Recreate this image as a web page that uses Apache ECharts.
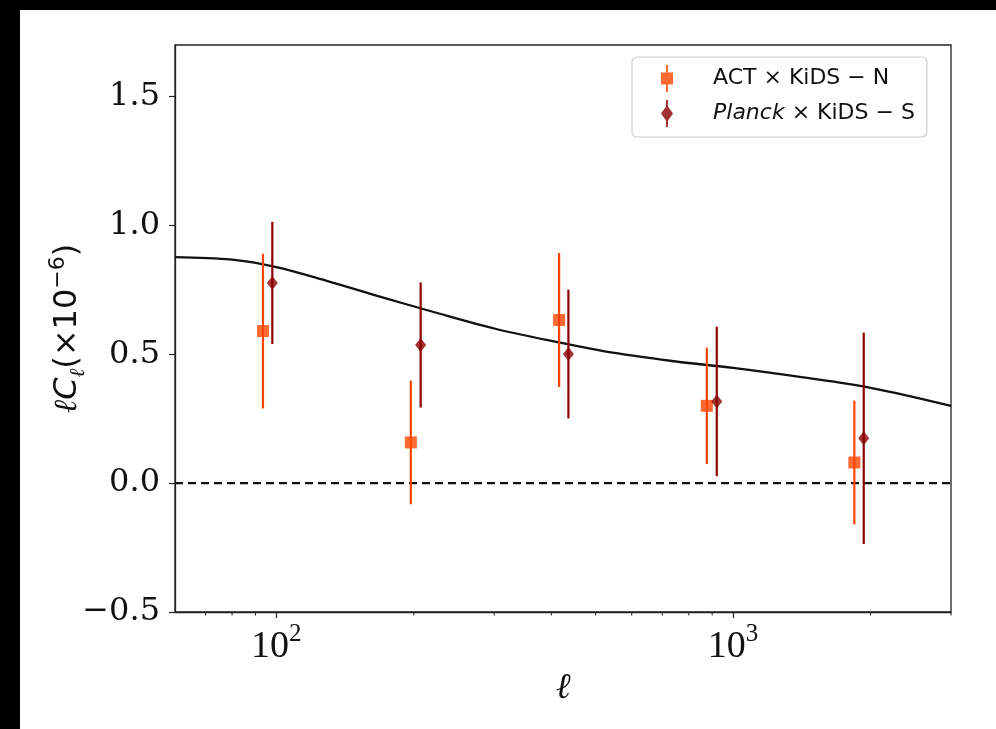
<!DOCTYPE html>
<html><head><meta charset="utf-8">
<script src="https://cdn.jsdelivr.net/npm/echarts@6/dist/echarts.min.js"></script>
<style>
html,body{margin:0;padding:0;background:#000;width:996px;height:729px;overflow:hidden}
#chart{position:absolute;left:20px;top:10px;width:976px;height:719px;background:#fff}
</style></head><body><div id="chart"></div>
<script>
// ---- data ----
const actEll = [93.5, 197, 416, 876, 1843];
const actVal = [0.590, 0.158, 0.633, 0.300, 0.080];
const actErr = [0.300, 0.240, 0.260, 0.226, 0.240];

const planckEll = [98, 207, 436, 921, 1932];
const planckVal = [0.777, 0.536, 0.501, 0.317, 0.174];
const planckErr = [0.237, 0.243, 0.250, 0.290, 0.410];

const theoryEll = [60, 80, 100, 130, 170, 220, 300, 400, 550, 750, 1000, 1400, 2000, 3000];
const theoryVal = [0.877, 0.867, 0.838, 0.783, 0.722, 0.665, 0.600, 0.552, 0.505, 0.472, 0.447, 0.412, 0.370, 0.300];

const xMajorTicks = [100, 1000];
const xMinorTicks = [70, 80, 90, 200, 300, 400, 500, 600, 700, 800, 900, 2000, 3000];
const yTicks = [-0.5, 0.0, 0.5, 1.0, 1.5];
const xRange = [60, 3000];
const yRange = [-0.5, 1.7];

const actName = 'ACT';
const planckName = 'Planck';
const actColor = '#FF4500';
const planckColor = '#8B0000';

// ---- helpers ----
function errData(ell, val, err) {
  return ell.map((e, i) => [e, val[i] - err[i], val[i] + err[i]]);
}
function errRender(color) {
  return function (params, api) {
    const x = api.value(0);
    const p1 = api.coord([x, api.value(1)]);
    const p2 = api.coord([x, api.value(2)]);
    return { type: 'line', shape: { x1: p1[0], y1: p1[1], x2: p2[0], y2: p2[1] },
             style: { stroke: color, lineWidth: 2.2 } };
  };
}
function fmtY(v) {
  return (v < 0 ? '\u2212' : '') + Math.abs(v).toFixed(1);
}

const chart = echarts.init(document.getElementById('chart'), null, { renderer: 'canvas' });

const option = {
  animation: false,
  backgroundColor: '#fff',
  grid: { left: 155, top: 35, right: 45, bottom: 117, show: true, borderColor: '#222', borderWidth: 1.3, backgroundColor: 'transparent' },
  legend: {
    left: 612, top: 47,
    orient: 'vertical',
    padding: [8, 12, 10, 29],
    itemGap: 8,
    itemWidth: 12, itemHeight: 27,
    borderColor: '#cccccc', borderWidth: 1.2, borderRadius: 5,
    backgroundColor: '#fff',
    selectedMode: false,
    textStyle: {
      fontFamily: 'DejaVu Sans', fontSize: 22, color: '#111', padding: [0, 0, 0, 35],
      rich: { it: { fontFamily: 'DejaVu Sans', fontStyle: 'italic', fontSize: 22, color: '#111' },
              n: { fontFamily: 'DejaVu Sans', fontSize: 22, color: '#111' } }
    },
    formatter: function (name) {
      return name === actName ? '{n|ACT \u00d7 KiDS \u2212 N}' : '{it|Planck}{n| \u00d7 KiDS \u2212 S}';
    },
    data: [
      { name: actName, icon: 'path://M5,0 H7 V7.5 H12 V19.5 H7 V27 H5 V19.5 H0 V7.5 H5 Z', itemStyle: { color: actColor } },
      { name: planckName, icon: 'path://M5,0 H7 V6.5 L12,13.5 L7,20.5 V27 H5 V20.5 L0,13.5 L5,6.5 Z', itemStyle: { color: planckColor } }
    ]
  },
  xAxis: {
    type: 'log', logBase: 10, min: xRange[0], max: xRange[1],
    name: '\u2113', nameLocation: 'middle', nameGap: 52,
    nameTextStyle: { fontFamily: 'DejaVu Serif', fontStyle: 'italic', fontSize: 36, color: '#111' },
    axisLine: { show: true, onZero: false, lineStyle: { color: '#222', width: 1.3 } },
    axisTick: { show: true, inside: false, length: 6, customValues: xMajorTicks, lineStyle: { color: '#222', width: 1.2 } },
    splitLine: { show: false },
    minorTick: { show: false },
    axisLabel: {
      customValues: xMajorTicks, margin: 10, color: '#111',
      formatter: function (v) { return '{b|10}{s|' + Math.round(Math.log10(v)) + '}'; },
      rich: {
        b: { fontFamily: 'Liberation Serif', fontSize: 38, color: '#111', lineHeight: 44, verticalAlign: 'bottom' },
        s: { fontFamily: 'Liberation Serif', fontSize: 25, color: '#111', verticalAlign: 'top' }
      }
    }
  },
  yAxis: {
    type: 'value', min: yRange[0], max: yRange[1],
    name: '{l|\u2113}{c|C}{sub|\u2113}{n|(\u00d710}{sup|\u22126}{n|)}',
    nameLocation: 'middle', nameRotate: 90, nameGap: 86, nameMoveOverlap: false,
    nameTextStyle: {
      color: '#111',
      rich: {
        l: { fontFamily: 'DejaVu Serif', fontStyle: 'italic', fontSize: 32, color: '#111', lineHeight: 42 },
        c: { fontFamily: 'DejaVu Sans', fontStyle: 'italic', fontSize: 32, color: '#111', lineHeight: 42 },
        sub: { fontFamily: 'DejaVu Serif', fontStyle: 'italic', fontSize: 21, color: '#111', verticalAlign: 'bottom' },
        n: { fontFamily: 'DejaVu Sans', fontSize: 32, color: '#111', lineHeight: 42 },
        sup: { fontFamily: 'DejaVu Sans', fontSize: 22, color: '#111', verticalAlign: 'top' }
      }
    },
    axisLine: { show: true, onZero: false, lineStyle: { color: '#222', width: 1.3 } },
    axisTick: { show: true, inside: false, length: 6, customValues: yTicks, lineStyle: { color: '#222', width: 1.2 } },
    splitLine: { show: false },
    axisLabel: { customValues: yTicks, margin: 15, color: '#111', fontFamily: 'DejaVu Serif', fontSize: 32, formatter: fmtY }
  },
  series: [
    {
      name: 'minorTicks', type: 'custom', silent: true, clip: false, z: 1,
      data: xMinorTicks.map(v => [v]),
      encode: { x: 0 },
      renderItem: function (params, api) {
        const p = api.coord([api.value(0), yRange[0]]);
        return { type: 'line', shape: { x1: p[0], y1: p[1], x2: p[0], y2: p[1] + 3.5 }, style: { stroke: '#222', lineWidth: 1 } };
      }
    },
    {
      name: 'zero', type: 'line', silent: true, z: 2, showSymbol: false,
      data: [[xRange[0], 0], [xRange[1], 0]],
      lineStyle: { color: '#111', width: 2.2, type: [8, 5] }
    },
    {
      name: 'theory', type: 'line', silent: true, z: 3, showSymbol: false, smooth: 0.35,
      data: theoryEll.map((e, i) => [e, theoryVal[i]]),
      lineStyle: { color: '#111', width: 2.3 }
    },
    {
      name: 'actErr', type: 'custom', silent: true, z: 4,
      data: errData(actEll, actVal, actErr), encode: { x: 0, y: [1, 2] },
      renderItem: errRender(actColor)
    },
    {
      name: actName, type: 'scatter', z: 5, symbol: 'rect', symbolSize: 12,
      data: actEll.map((e, i) => [e, actVal[i]]),
      itemStyle: { color: actColor }
    },
    {
      name: 'planckErr', type: 'custom', silent: true, z: 6,
      data: errData(planckEll, planckVal, planckErr), encode: { x: 0, y: [1, 2] },
      renderItem: errRender(planckColor)
    },
    {
      name: planckName, type: 'scatter', z: 7, symbol: 'diamond', symbolSize: [11, 14],
      data: planckEll.map((e, i) => [e, planckVal[i]]),
      itemStyle: { color: planckColor }
    }
  ]
};
chart.setOption(option);
</script></body></html>
